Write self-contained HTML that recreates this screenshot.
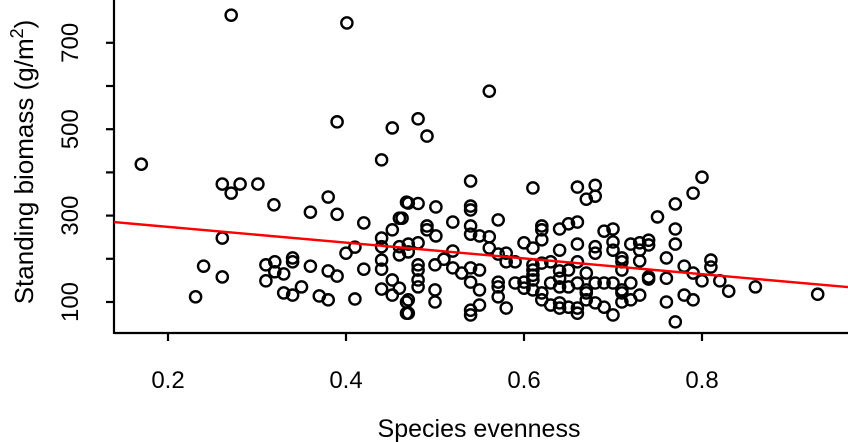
<!DOCTYPE html>
<html><head><meta charset="utf-8"><style>
html,body{margin:0;padding:0;background:#fff;}
svg{display:block;font-family:"Liberation Sans",sans-serif;}
</style></head><body>
<svg id="chart" width="848" height="442">
<g id="axes"></g><g id="pts"></g><g id="fit"></g>
</svg>
<script>
const xVals=[0.17,0.271,0.401,0.39,0.452,0.44,0.261,0.271,0.281,0.301,0.319,0.38,0.36,0.39,0.42,0.468,0.46,0.452,0.44,0.44,0.46,0.46,0.41,0.40,0.261,0.24,0.261,0.231,0.31,0.32,0.32,0.33,0.34,0.34,0.36,0.38,0.39,0.42,0.31,0.35,0.33,0.34,0.37,0.38,0.41,0.44,0.44,0.44,0.452,0.452,0.46,0.468,0.468,
0.561,0.481,0.491,0.54,0.61,0.66,0.68,0.67,0.68,0.47,0.481,0.501,0.54,0.54,0.463,0.52,0.571,0.491,0.491,0.501,0.54,0.54,0.55,0.561,0.561,0.62,0.62,0.62,0.64,0.65,0.66,0.69,0.70,0.60,0.61,0.64,0.66,0.68,0.70,0.70,0.47,0.481,0.47,0.52,0.51,0.50,0.52,0.53,0.54,0.55,0.571,0.58,0.58,0.59,0.61,0.61,0.61,0.62,0.63,0.64,0.64,0.65,0.66,0.67,0.68,0.481,0.481,0.481,0.481,0.50,0.54,0.55,0.571,0.571,0.59,0.60,0.60,0.61,0.61,0.62,0.63,0.64,0.65,0.66,0.67,0.68,0.69,0.70,0.47,0.47,0.50,0.54,0.54,0.55,0.571,0.58,0.62,0.63,0.64,0.64,0.65,0.66,0.66,0.67,0.67,0.68,0.69,0.70,
0.80,0.79,0.77,0.75,0.77,0.77,0.74,0.74,0.73,0.73,0.72,0.71,0.71,0.73,0.76,0.71,0.74,0.74,0.76,0.78,0.79,0.80,0.81,0.81,0.82,0.83,0.86,0.93,0.71,0.71,0.72,0.72,0.71,0.73,0.76,0.78,0.79,0.77];
const yVals=[419,764,746,517,503,429,373,352,373,373,325,343,308,303,283,331,294,267,248,228,228,209,227,213,248,183,158,112,186,193,170,165,202,193,183,172,160,176,149,135,121,116,114,105,107,197,176,130,151,116,132,100,74,
588,524,484,380,364,366,370,338,345,329,328,320,322,313,294,285,290,276,267,253,276,257,253,251,225,276,267,244,269,281,285,264,269,237,225,220,234,228,239,220,234,237,216,218,199,186,179,167,179,174,211,213,193,193,186,174,162,190,193,172,155,174,193,167,213,186,174,151,135,128,146,128,146,135,144,146,132,151,128,121,144,135,135,144,128,144,144,144,105,74,100,81,70,93,112,86,105,93,98,86,88,86,74,121,105,98,88,70,
389,352,327,297,269,234,243,232,237,220,234,202,193,195,202,174,158,153,155,183,167,149,197,181,149,125,135,118,128,121,144,105,100,116,100,116,105,54];
const xTicks=[0.2,0.4,0.6,0.8];
const yTicks=[100,200,300,400,500,600,700];
const yLabels=[100,300,500,700];
const fitLine=[310.4,-182.5];
const NS='http://www.w3.org/2000/svg';
const X=v=>168+(v-0.2)*890;
const Y=v=>302-(v-100)*0.432;
function mk(t,a,p){const e=document.createElementNS(NS,t);for(const k in a)e.setAttribute(k,a[k]);p.appendChild(e);return e;}
const ax=document.getElementById('axes');
const xl=mk('line',{x1:114,y1:333,x2:848,y2:333,stroke:'#000','stroke-width':2.2},ax);


const yl=mk('line',{x1:114,y1:0,x2:114,y2:334,stroke:'#000','stroke-width':2.2},ax);


xTicks.forEach(v=>{
 const t=mk('line',{x1:X(v),y1:333,x2:X(v),y2:341,stroke:'#000','stroke-width':2.2},ax);
 
 
 const l=mk('text',{x:X(v),y:388,'text-anchor':'middle','font-size':24},ax);l.textContent=v.toFixed(1);
 
 
});
yTicks.forEach(v=>{
 const t=mk('line',{x1:106,y1:Y(v),x2:114,y2:Y(v),stroke:'#000','stroke-width':2.2},ax);
 
 
});
yLabels.forEach(v=>{
 const l=mk('text',{x:0,y:0,'text-anchor':'middle','font-size':24,transform:`translate(78,${Y(v)}) rotate(-90)`},ax);l.textContent=v;
 
 
});
const xt=mk('text',{x:479,y:437,'text-anchor':'middle','font-size':25},ax);xt.textContent='Species evenness';


const yt=mk('text',{x:0,y:0,'text-anchor':'middle','font-size':26,transform:'translate(33,162) rotate(-90)'},ax);
yt.innerHTML='Standing biomass (g/m<tspan dy="-10" font-size="18">2</tspan><tspan dy="10">)</tspan>';


const pg=document.getElementById('pts');
xVals.forEach((x,i)=>{
 const c=mk('circle',{cx:X(x),cy:Y(yVals[i]),r:5.6,fill:'none',stroke:'#000','stroke-width':2.4},pg);
 
 
});
const fx0=(114-168)/890+0.2, fx1=(848-168)/890+0.2;
const fl=mk('line',{x1:114,y1:Y(fitLine[0]+fitLine[1]*fx0),x2:848,y2:Y(fitLine[0]+fitLine[1]*fx1),stroke:'#f00','stroke-width':2.4},document.getElementById('fit'));


</script>
</body></html>
